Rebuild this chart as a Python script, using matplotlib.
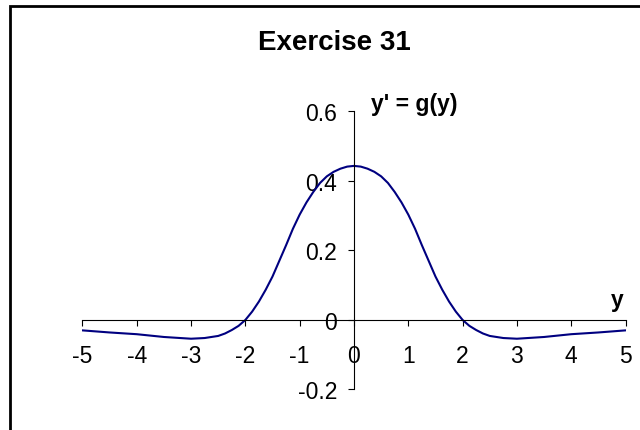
import numpy as np
import matplotlib
matplotlib.use('Agg')
import matplotlib.pyplot as plt
from matplotlib.patches import Rectangle

# g(y), right half (y >= 0); the curve is even so the left half mirrors it
y_half = [0.0, 0.125, 0.25, 0.375, 0.5, 0.625, 0.75, 0.875, 1.0, 1.125, 1.25, 1.375,
          1.5, 1.625, 1.75, 1.875, 2.0, 2.125, 2.25, 2.375, 2.5, 2.75, 3.0, 3.5,
          4.0, 4.5, 5.0]
g_half = [0.443, 0.441, 0.435, 0.426, 0.413, 0.394, 0.368, 0.338, 0.303, 0.262, 0.215, 0.170,
          0.125, 0.087, 0.053, 0.024, 0.0, -0.017, -0.029, -0.039, -0.046, -0.052, -0.054, -0.049,
          -0.041, -0.036, -0.030]
x_ticks = [-5, -4, -3, -2, -1, 0, 1, 2, 3, 4, 5]
y_ticks = [-0.2, 0, 0.2, 0.4, 0.6]
y_ticklabels = ['-0.2', '0', '0.2', '0.4', '0.6']

y_vals = [-v for v in y_half[:0:-1]] + y_half
g_vals = g_half[:0:-1] + g_half

plt.rcParams['font.family'] = ['Liberation Sans', 'DejaVu Sans']

fig = plt.figure(figsize=(6.4, 4.31), dpi=100)
ax = fig.add_axes([0.1288, 0.0940, 0.8486, 0.6454])

ax.plot(y_vals, g_vals, color='#000080', lw=1.5)

ax.set_xlim(-5, 5)
ax.set_ylim(-0.2, 0.6)
ax.spines['left'].set_position(('data', 0))
ax.spines['bottom'].set_position(('data', 0))
ax.spines['right'].set_visible(False)
ax.spines['top'].set_visible(False)
for s in ['left', 'bottom']:
    ax.spines[s].set_linewidth(0.8)
    ax.spines[s].set_color('black')

ax.set_xticks(x_ticks)
ax.set_xticklabels([str(t) for t in x_ticks])
ax.set_yticks(y_ticks)
ax.set_yticklabels(y_ticklabels)
ax.tick_params(axis='x', direction='out', length=4.5, width=0.8, pad=13, labelsize=16.5)
ax.tick_params(axis='y', direction='out', length=4, width=0.8, pad=8, labelsize=16.5)

fig.text(334 / 640, 1 - 43 / 431, 'Exercise 31', ha='center', va='center',
         fontsize=20, fontweight='bold')
fig.text(371 / 640, 1 - 104 / 431, "y' = g(y)", ha='left', va='center',
         fontsize=16.5, fontweight='bold')
fig.text(617 / 640, 1 - 300 / 431, 'y', ha='center', va='center',
         fontsize=16.5, fontweight='bold')

# chart area border
fig.patches.append(Rectangle((10 / 640, -0.1), 1.2, 1 - 7 / 431 + 0.1,
                             transform=fig.transFigure, fill=False,
                             edgecolor='black', lw=2))

fig.savefig('out.png', dpi=100)
